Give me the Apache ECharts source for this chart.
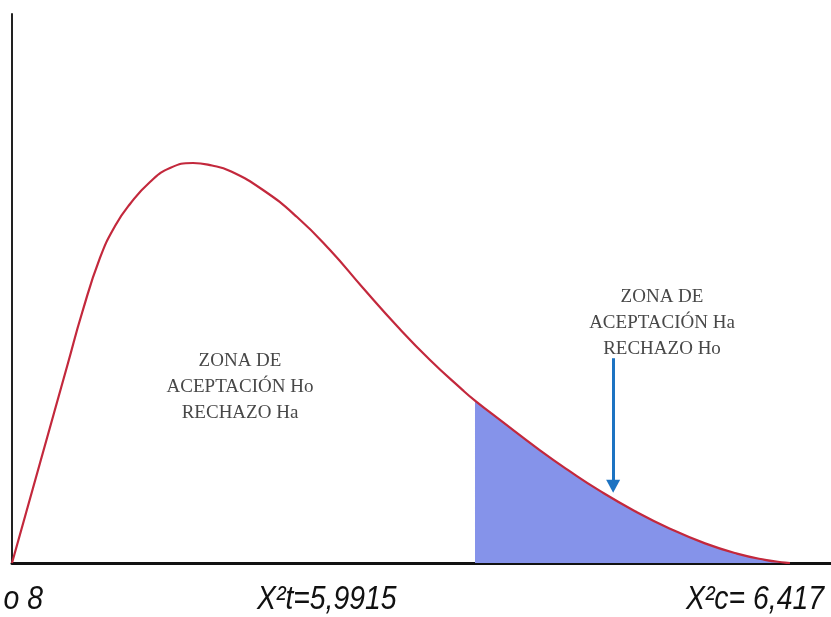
<!DOCTYPE html>
<html>
<head>
<meta charset="utf-8">
<script src="https://cdn.jsdelivr.net/npm/echarts@6/dist/echarts.min.js"></script>
<style>
  html, body { margin: 0; padding: 0; background: #ffffff; }
  #chart { width: 831px; height: 617px; }
</style>
</head>
<body>
<div id="chart"></div>
<script>
// Curve (arbitrary units: x 0..10, y 0..10)
const curveX = [0, 0.171, 0.342, 0.513, 0.684, 0.855, 1.074, 1.258, 1.441, 1.685, 1.929, 2.210, 2.442, 2.662, 3.065, 3.480, 3.883, 4.286, 4.701, 5.104, 5.507, 5.653, 5.958, 6.447, 6.813, 7.179, 7.607, 8.034, 8.462, 8.852, 9.194, 9.438, 9.499];
const curveY = [0, 0.911, 1.821, 2.732, 3.643, 4.554, 5.556, 6.138, 6.539, 6.940, 7.195, 7.286, 7.240, 7.140, 6.794, 6.302, 5.701, 5.009, 4.317, 3.698, 3.144, 2.958, 2.605, 2.051, 1.668, 1.313, 0.944, 0.625, 0.357, 0.171, 0.058, 0.007, 0];
const criticalX = 5.65;           // start of the shaded rejection zone
const arrowX = 7.34;              // arrow pointing into the rejection zone
const arrowTopY = 3.73;
const arrowTipY = 1.40;

const leftZoneText = ['ZONA DE', 'ACEPTACIÓN Ho', 'RECHAZO Ha'];
const rightZoneText = ['ZONA DE', 'ACEPTACIÓN Ha', 'RECHAZO Ho'];
const bottomLabels = ['o 8', 'X²t=5,9915', 'X²c= 6,417'];

const curveData = curveX.map((x, i) => [x, curveY[i]]);
const tailData = curveData.filter(p => p[0] >= criticalX);

const chart = echarts.init(document.getElementById('chart'), null, { renderer: 'canvas' });

const serifFont = '"Liberation Serif", "Times New Roman", serif';
const sansItalic = 'italic 33px "Liberation Sans", Arial, sans-serif';

chart.setOption({
  animation: false,
  backgroundColor: '#ffffff',
  grid: { left: 12, right: 0, top: 14, bottom: 54, containLabel: false },
  xAxis: {
    type: 'value', min: 0, max: 10,
    axisLine: { show: true, onZero: false, lineStyle: { color: '#111111', width: 3 } },
    axisTick: { show: false }, axisLabel: { show: false }, splitLine: { show: false }
  },
  yAxis: {
    type: 'value', min: 0, max: 10,
    axisLine: { show: true, onZero: false, lineStyle: { color: '#222222', width: 2 } },
    axisTick: { show: false }, axisLabel: { show: false }, splitLine: { show: false }
  },
  series: [
    {
      name: 'Zona de rechazo',
      type: 'line',
      data: tailData,
      smooth: 0.5,
      symbol: 'none',
      lineStyle: { width: 0 },
      areaStyle: { color: '#8593ea', opacity: 1 },
      z: 1
    },
    {
      name: 'Distribución',
      type: 'line',
      data: curveData,
      smooth: 0.5,
      symbol: 'none',
      lineStyle: { color: '#c3283c', width: 2.2 },
      z: 3,
      markLine: {
        silent: true,
        symbol: ['none', 'triangle'],
        symbolSize: [14, 13],
        label: { show: false },
        lineStyle: { color: '#1c73c2', width: 3, type: 'solid' },
        data: [[{ coord: [arrowX, arrowTopY] }, { coord: [arrowX, arrowTipY] }]]
      }
    }
  ],
  graphic: [
    {
      type: 'text', x: 240, y: 387,
      style: {
        text: leftZoneText.join('\n'),
        font: '19px ' + serifFont, fill: '#484848',
        align: 'center', verticalAlign: 'middle', lineHeight: 26
      }
    },
    {
      type: 'text', x: 662, y: 323,
      style: {
        text: rightZoneText.join('\n'),
        font: '19px ' + serifFont, fill: '#484848',
        align: 'center', verticalAlign: 'middle', lineHeight: 26
      }
    },
    {
      type: 'text', x: 43, y: 600, scaleX: 0.86,
      style: { text: bottomLabels[0], font: sansItalic, fill: '#111111', align: 'right', verticalAlign: 'middle' }
    },
    {
      type: 'text', x: 257, y: 600, scaleX: 0.86,
      style: { text: bottomLabels[1], font: sansItalic, fill: '#111111', align: 'left', verticalAlign: 'middle' }
    },
    {
      type: 'text', x: 824, y: 600, scaleX: 0.86,
      style: { text: bottomLabels[2], font: sansItalic, fill: '#111111', align: 'right', verticalAlign: 'middle' }
    }
  ]
});
</script>
</body>
</html>
